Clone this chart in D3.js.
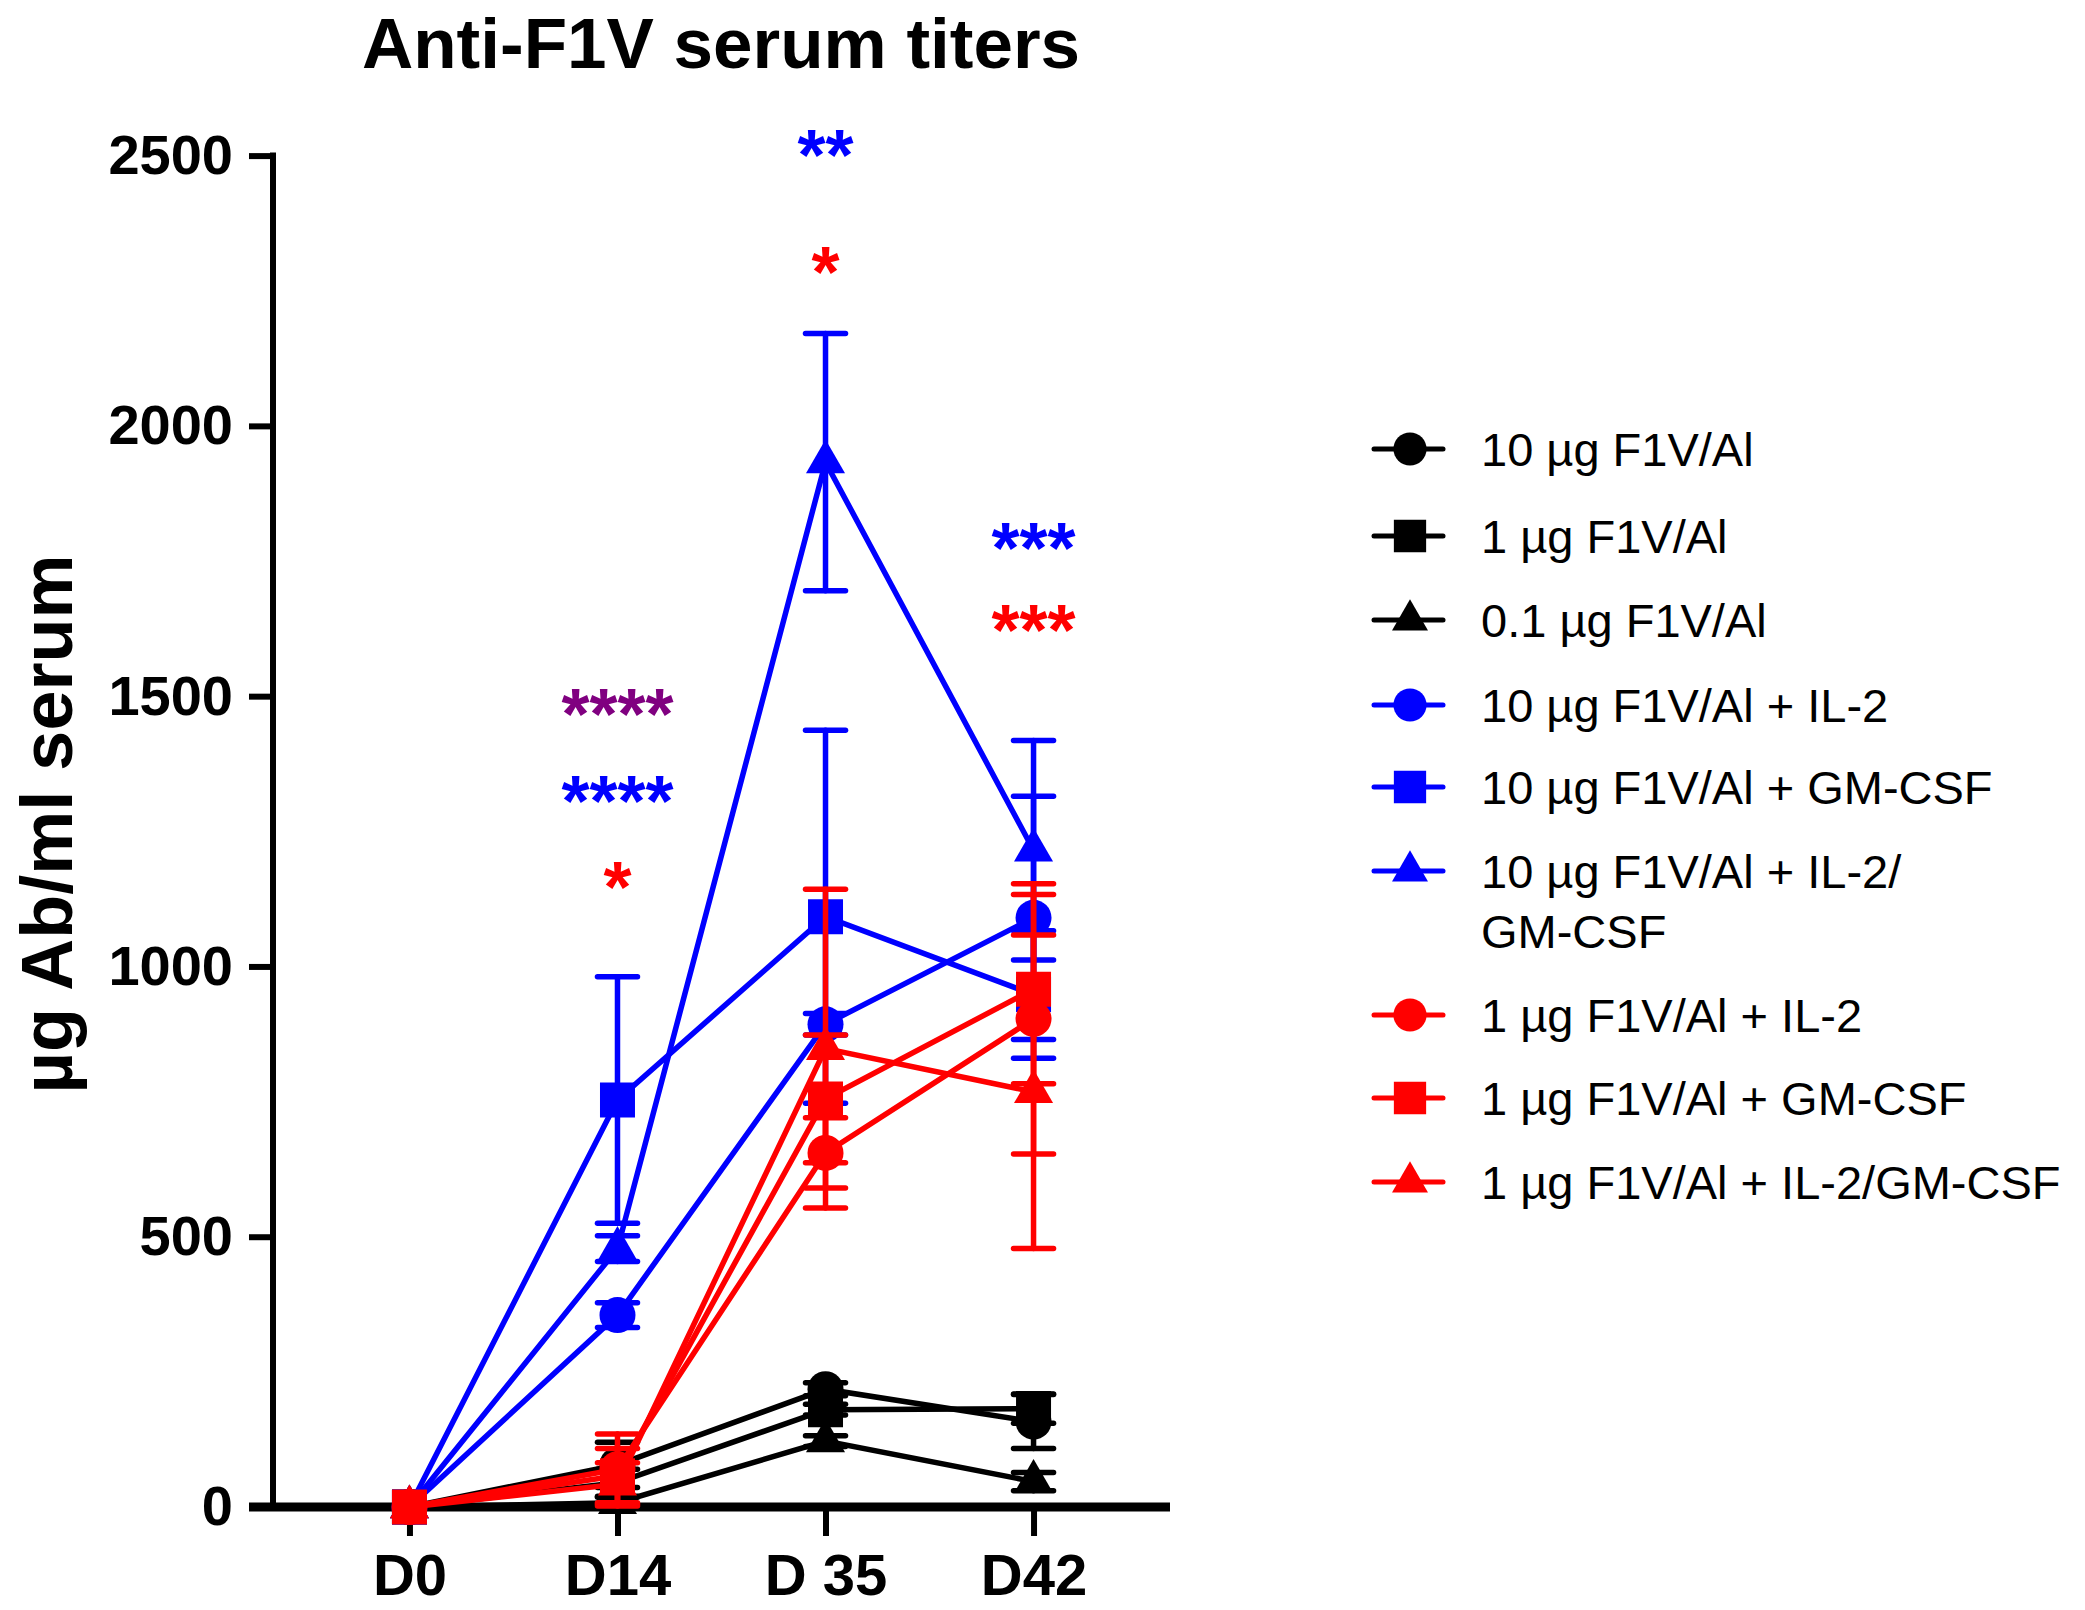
<!DOCTYPE html>
<html>
<head>
<meta charset="utf-8">
<script src="https://cdn.jsdelivr.net/npm/d3@7"></script>
<style>
  body { margin: 0; background: #fff; }
  svg { display: block; }
  text { font-family: Arial, "Liberation Sans", sans-serif; }
</style>
</head>
<body>
<div id="chart"></div>
<script>
// Size of the drawing, same as the browser window.
var w = 2085,
    h = 1610;

// Time points on the x axis.
var days = ["D0", "D14", "D 35", "D42"];

// Y axis tick values.
var yTicks = [0, 500, 1000, 1500, 2000, 2500];

// Group names, one per data set (legend order). "|" marks a line break.
var groupNames = [
    "10 µg F1V/Al",
    "1 µg F1V/Al",
    "0.1 µg F1V/Al",
    "10 µg F1V/Al + IL-2",
    "10 µg F1V/Al + GM-CSF",
    "10 µg F1V/Al + IL-2/|GM-CSF",
    "1 µg F1V/Al + IL-2",
    "1 µg F1V/Al + GM-CSF",
    "1 µg F1V/Al + IL-2/GM-CSF"
];

// Mean titers per group at D0, D14, D35, D42.
var means = [
    [0, 78, 218, 158],
    [0, 45, 180, 182],
    [0, 8, 122, 47],
    [0, 355, 893, 1090],
    [0, 753, 1092, 948],
    [0, 478, 1933, 1215],
    [0, 70, 655, 903],
    [0, 58, 755, 958],
    [0, 42, 848, 768]
];

// Error (SEM) per group at each time point.
var errors = [
    [0, 42, 12, 50],
    [0, 25, 10, 27],
    [0, 10, 10, 17],
    [0, 23, 20, 225],
    [0, 228, 345, 118],
    [0, 24, 238, 203],
    [0, 65, 65, 250],
    [0, 50, 118, 175],
    [0, 40, 295, 290]
];

// Significance labels: time point, label, colour and height (in titer units).
var starDays   = ["D14", "D14", "D14", "D 35", "D 35", "D42", "D42"];
var starTexts  = ["****", "****", "*", "**", "*", "***", "***"];
var starColors = ["#800080", "#0000ff", "#ff0000", "#0000ff", "#ff0000", "#0000ff", "#ff0000"];
var starLevels = [1497, 1336, 1177, 2530, 2315, 1804, 1652];

// Style per group: colour and marker shape.
var colors = ["#000", "#000", "#000", "#0000ff", "#0000ff", "#0000ff", "#ff0000", "#ff0000", "#ff0000"];
var shapes = [d3.symbolCircle, d3.symbolSquare, d3.symbolTriangle,
              d3.symbolCircle, d3.symbolSquare, d3.symbolTriangle,
              d3.symbolCircle, d3.symbolSquare, d3.symbolTriangle];
var shapeSize = function (s, k) {
    if (s === d3.symbolCircle) return 1018 * k;
    if (s === d3.symbolSquare) return 1225 * k;
    return 660 * k;
};

var svg = d3.select("#chart")
    .append("svg")
    .attr("width", w)
    .attr("height", h)
    .attr("viewBox", "0 0 " + w + " " + h);

// Scales.
var x = d3.scalePoint()
    .domain(days)
    .range([273, 1170])
    .padding(0.656);

var y = d3.scaleLinear()
    .domain([0, 2500])
    .range([1507, 155.6]);

// Title.
svg.append("text")
    .attr("x", 721)
    .attr("y", 68)
    .attr("text-anchor", "middle")
    .style("font-size", "71px")
    .style("font-weight", "bold")
    .text("Anti-F1V serum titers");

// Y axis.
var yAxis = svg.append("g")
    .attr("transform", "translate(273,0)")
    .call(d3.axisLeft(y).tickValues(yTicks).tickFormat(d3.format("d"))
        .tickSize(24).tickSizeOuter(0).tickPadding(16));
yAxis.select(".domain").attr("stroke-width", 6).attr("d", "M0," + (y(2500) - 3) + "V" + y(0));
yAxis.selectAll(".tick line").attr("stroke-width", 6);
yAxis.selectAll(".tick text")
    .style("font-size", "56px")
    .style("font-weight", "bold")
    .attr("fill", "#000");

// X axis.
var xAxis = svg.append("g")
    .attr("transform", "translate(0," + y(0) + ")")
    .call(d3.axisBottom(x).tickSize(29).tickSizeOuter(0).tickPadding(18));
xAxis.select(".domain").attr("stroke-width", 9).attr("d", "M249,0H1170");
xAxis.selectAll(".tick line").attr("stroke-width", 6);
xAxis.selectAll(".tick text")
    .style("font-size", "58px")
    .style("font-weight", "bold")
    .attr("fill", "#000");

// Y axis title.
svg.append("text")
    .attr("transform", "translate(72,824) rotate(-90)")
    .attr("text-anchor", "middle")
    .style("font-size", "72px")
    .style("font-weight", "bold")
    .text("µg Ab/ml serum");

// Data sets, drawn in legend order so later ones sit on top.
var line = d3.line()
    .x(function (d) { return x(d.day); })
    .y(function (d) { return y(d.v); });

var capW = 20;

groupNames.forEach(function (name, i) {
    var pts = days.map(function (day, j) {
        return { day: day, v: means[i][j], e: errors[i][j] };
    });
    var g = svg.append("g").attr("class", "group");

    g.append("path")
        .datum(pts)
        .attr("d", line)
        .attr("fill", "none")
        .attr("stroke", colors[i])
        .attr("stroke-width", 5.5);

    var bars = g.selectAll("g.err")
        .data(pts.filter(function (d) { return d.e > 0; }))
        .enter()
        .append("g")
        .attr("class", "err")
        .attr("stroke", colors[i])
        .attr("stroke-width", 5.5)
        .attr("stroke-linecap", "round");
    bars.append("line")
        .attr("x1", function (d) { return x(d.day); })
        .attr("x2", function (d) { return x(d.day); })
        .attr("y1", function (d) { return y(d.v + d.e); })
        .attr("y2", function (d) { return y(d.v - d.e); });
    bars.append("line")
        .attr("x1", function (d) { return x(d.day) - capW; })
        .attr("x2", function (d) { return x(d.day) + capW; })
        .attr("y1", function (d) { return y(d.v + d.e); })
        .attr("y2", function (d) { return y(d.v + d.e); });
    bars.append("line")
        .attr("x1", function (d) { return x(d.day) - capW; })
        .attr("x2", function (d) { return x(d.day) + capW; })
        .attr("y1", function (d) { return y(d.v - d.e); })
        .attr("y2", function (d) { return y(d.v - d.e); });

    g.selectAll("path.pt")
        .data(pts)
        .enter()
        .append("path")
        .attr("class", "pt")
        .attr("d", d3.symbol().type(shapes[i]).size(shapeSize(shapes[i], 1)))
        .attr("transform", function (d) { return "translate(" + x(d.day) + "," + y(d.v) + ")"; })
        .attr("fill", colors[i]);
});

// Significance stars.
svg.selectAll("text.star")
    .data(starTexts)
    .enter()
    .append("text")
    .attr("class", "star")
    .attr("x", function (d, i) { return x(starDays[i]); })
    .attr("y", function (d, i) { return y(starLevels[i]) + 41; })
    .attr("text-anchor", "middle")
    .attr("fill", function (d, i) { return starColors[i]; })
    .style("font-size", "72px")
    .style("font-weight", "bold")
    .text(function (d) { return d; });

// Legend.
var legendY = [449, 536, 620, 705, 787, 871, 1015, 1098, 1182];
var legend = svg.append("g");
groupNames.forEach(function (name, i) {
    var row = legend.append("g").attr("transform", "translate(0," + legendY[i] + ")");
    row.append("line")
        .attr("x1", 1374).attr("x2", 1443)
        .attr("stroke", colors[i])
        .attr("stroke-width", 5)
        .attr("stroke-linecap", "round");
    row.append("path")
        .attr("d", d3.symbol().type(shapes[i]).size(shapeSize(shapes[i], 0.85))())
        .attr("transform", "translate(1410,0)")
        .attr("fill", colors[i]);
    var t = row.append("text")
        .attr("x", 1481)
        .attr("y", 17)
        .style("font-size", "47px")
        .attr("fill", "#000");
    name.split("|").forEach(function (part, k) {
        t.append("tspan")
            .attr("x", 1481)
            .attr("dy", k === 0 ? 0 : 60)
            .text(part);
    });
});
</script>
</body>
</html>
